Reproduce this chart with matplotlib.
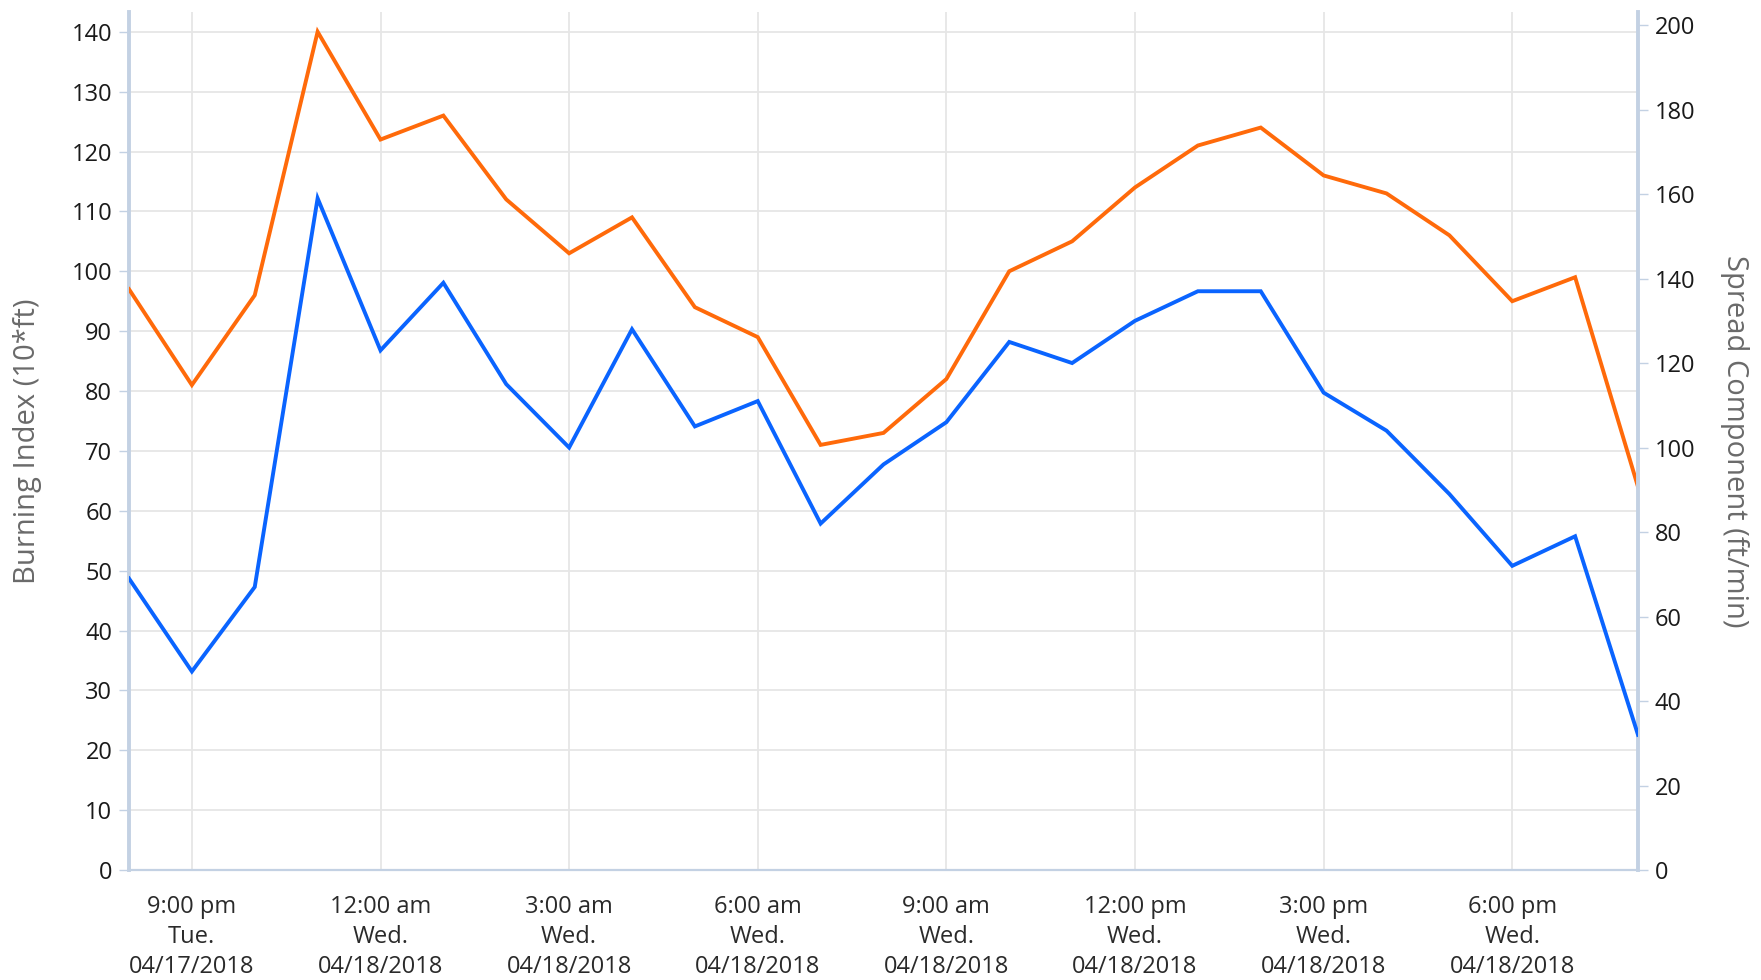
import matplotlib
matplotlib.use("Agg")
import matplotlib.pyplot as plt
import pandas as pd

plt.rcParams['font.family'] = ['Open Sans', 'DejaVu Sans']

# hourly observations, 8 pm Tue 04/17/2018 .. 8 pm Wed 04/18/2018
times = pd.date_range('2018-04-17 20:00', '2018-04-18 20:00', freq='h')

burning_index = [97, 81, 96, 140, 122, 126, 112, 103, 109, 94, 89, 71, 73,
                 82, 100, 105, 114, 121, 124, 116, 113, 106, 95, 99, 64]
spread_component = [69, 47, 67, 159, 123, 139, 115, 100, 128, 105, 111, 82, 96,
                    106, 125, 120, 130, 137, 137, 113, 104, 89, 72, 79, 32]

tick_times = pd.to_datetime(['2018-04-17 21:00', '2018-04-18 00:00', '2018-04-18 03:00',
                             '2018-04-18 06:00', '2018-04-18 09:00', '2018-04-18 12:00',
                             '2018-04-18 15:00', '2018-04-18 18:00'])
tick_labels = ['9:00 pm\nTue.\n04/17/2018', '12:00 am\nWed.\n04/18/2018',
               '3:00 am\nWed.\n04/18/2018', '6:00 am\nWed.\n04/18/2018',
               '9:00 am\nWed.\n04/18/2018', '12:00 pm\nWed.\n04/18/2018',
               '3:00 pm\nWed.\n04/18/2018', '6:00 pm\nWed.\n04/18/2018']
left_ticks = list(range(0, 141, 10))
right_ticks = list(range(0, 201, 20))

W, H = 1761, 980
fig = plt.figure(figsize=(W / 100, H / 100), dpi=100)
x0, x1, y0, y1 = 129, 1638, 12, 870
ax = fig.add_axes([x0 / W, 1 - y1 / H, (x1 - x0) / W, (y1 - y0) / H])
ax2 = ax.twinx()

axis_col = '#C3D1E3'
grid_col = '#E6E6E6'
text_col = '#1A1A1A'

ax.plot(times, burning_index, color='#FF6A0A', lw=2.8, solid_joinstyle='miter', zorder=3)
ax2.plot(times, spread_component, color='#0A64FF', lw=2.8, solid_joinstyle='miter', zorder=3)

ax.set_xlim(times[0], times[-1])
ax.set_ylim(0, 143.3)
ax2.set_ylim(0, 203.1)

ax.set_yticks(left_ticks)
ax2.set_yticks(right_ticks)
ax.set_xticks(tick_times)
ax.set_xticklabels(tick_labels)
for lab in ax.get_xticklabels():
    lab.set_linespacing(1.32)

ax.grid(True, axis='both', color=grid_col, lw=1.3)
ax.set_axisbelow(True)

for s in ['top', 'right']:
    ax.spines[s].set_visible(False)
for s in ['top', 'left', 'bottom']:
    ax2.spines[s].set_visible(False)
ax.spines['left'].set_color(axis_col)
ax.spines['left'].set_linewidth(2.8)
ax.spines['bottom'].set_color(axis_col)
ax.spines['bottom'].set_linewidth(1.6)
ax2.spines['right'].set_color(axis_col)
ax2.spines['right'].set_linewidth(2.8)

ax.tick_params(axis='y', length=7, width=1, color=axis_col, labelsize=17,
               labelcolor=text_col, pad=5)
ax2.tick_params(axis='y', length=7, width=1, color=axis_col, labelsize=17,
                labelcolor=text_col, pad=5)
ax.tick_params(axis='x', length=0, labelsize=17, labelcolor='#2A2A2A', pad=18)

fig.text(28 / W, 1 - 441 / H, 'Burning Index (10*ft)', rotation=90,
         ha='center', va='center', fontsize=21, color='#6A6A6A')
fig.text(1735 / W, 1 - 441 / H, 'Spread Component (ft/min)', rotation=270,
         ha='center', va='center', fontsize=21, color='#6A6A6A')

fig.savefig('out.png', dpi=100, facecolor='white')
